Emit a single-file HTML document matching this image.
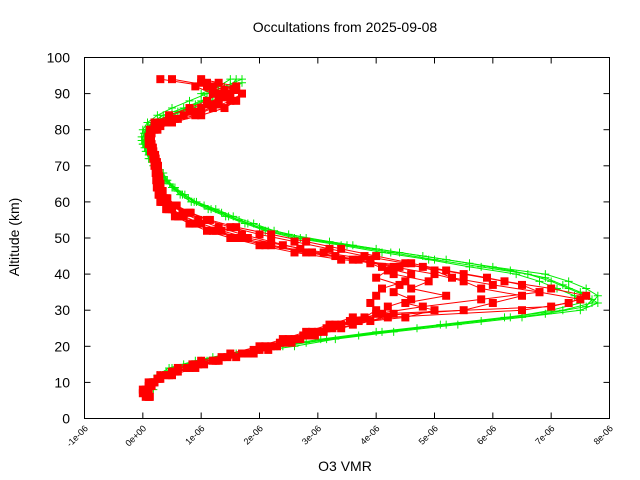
<!DOCTYPE html>
<html><head><meta charset="utf-8"><style>
html,body{margin:0;padding:0;background:#fff;}
svg{display:block;font-family:"Liberation Sans",sans-serif;}
</style></head><body>
<svg id="chart" width="640" height="480" viewBox="0 0 640 480" xmlns="http://www.w3.org/2000/svg">
<rect width="640" height="480" fill="#fff"/>
<text x="345" y="32" font-size="14" text-anchor="middle">Occultations from 2025-09-08</text>
<text transform="translate(19,237) rotate(-90)" font-size="14" text-anchor="middle">Altitude (km)</text>
<text x="345" y="471" font-size="14" text-anchor="middle">O3 VMR</text>
<g id="grid"></g>
<g id="series"></g>
<rect x="84.5" y="57.5" width="525" height="361" fill="none" stroke="#000" stroke-width="1"/>
</svg>
<script>
const xTicks = [-1, 0, 1, 2, 3, 4, 5, 6, 7, 8];
const xTickLabels = ["-1e-06","0e+00","1e-06","2e-06","3e-06","4e-06","5e-06","6e-06","7e-06","8e-06"];
const yTicks = [0,10,20,30,40,50,60,70,80,90,100];
const alts = [6,8,10,12,14,16,18,20,22,24,26,28,30,32,34,36,38,40,42,44,46,48,50,52,54,56,58,60,62,64,66,68,70,72,74,76,78,80,82,84,86,88,90,92,94];
const alts2 = [7,9,11,13,15,17,19,21,23,25,27,29,31,33,35,37,39,41,43,45,47,49,51,53,55,57,59,61,63,65,67,69,71,73,75,77,79,81,83,85,87,89,91,93,95];
const green1 = [null,0.10,0.12,0.25,0.45,0.9,1.5,2.3,3.05,4.0,5.1,6.2,7.2,7.7,7.8,7.6,7.3,6.9,6.0,5.2,4.4,3.6,2.8,2.25,1.9,1.55,1.25,0.92,0.72,0.55,0.42,0.35,0.22,0.15,0.1,0.03,-0.02,0.0,0.08,0.25,0.5,0.8,1.1,1.4,1.7];
const green2 = [null,0.18,0.2,0.35,0.6,1.1,1.7,2.6,3.3,4.3,5.4,6.5,7.5,7.8,7.6,7.3,7.0,6.6,5.8,5.0,4.25,3.5,2.7,2.15,1.8,1.47,1.17,0.88,0.68,0.52,0.4,0.32,0.2,0.12,0.06,0.0,0.02,0.05,0.15,0.35,0.7,1.0,1.3,1.5,1.6];
const green3 = [null,null,0.15,0.3,0.5,1.0,1.6,2.4,3.15,4.1,5.2,6.3,7.0,7.5,7.4,7.1,6.8,6.4,5.6,4.9,4.1,3.4,2.6,2.1,1.75,1.42,1.12,0.83,0.64,0.5,0.38,0.3,0.18,0.1,0.05,0.0,0.05,0.1,0.2,0.5,0.85,1.2,1.0,1.3,1.5];
const green4 = [0.05,0.1,0.2,0.4,0.7,1.2,2.0,2.8,3.7,4.7,5.8,6.9,7.6,7.7,7.5,7.2,6.9,6.3,5.6,4.8,4.0,3.2,2.5,2.0,1.65,1.35,1.05,0.78,0.6,0.46,0.36,0.27,0.16,0.1,0.03,-0.02,0.02,0.1,0.3,0.6,0.9,1.2,1.5,1.7,null];
const red1 = [0.1,0.05,0.15,0.4,0.75,1.2,1.7,2.2,2.6,3.0,3.4,3.8,4.0,3.9,4.0,4.1,4.5,4.6,4.1,3.9,3.1,2.4,1.8,1.35,1.0,0.7,0.5,0.38,0.32,0.3,0.28,0.27,0.26,0.22,0.18,0.15,0.12,0.12,0.2,0.45,0.8,1.1,1.3,1.2,0.5];
const red2 = [0.05,0.0,0.1,0.3,0.6,1.0,1.5,2.0,2.4,2.8,3.2,3.6,5.5,6.0,6.5,5.8,5.5,5.0,4.3,3.6,2.8,2.1,1.6,1.2,0.85,0.6,0.42,0.33,0.28,0.25,0.25,0.24,0.22,0.2,0.15,0.12,0.1,0.15,0.3,0.7,1.0,1.3,1.5,1.1,0.3];
const red3 = [0.1,0.08,0.2,0.5,0.9,1.3,1.9,2.3,2.7,3.1,3.6,4.2,6.5,7.3,7.6,7.0,6.2,5.5,4.8,3.4,2.6,2.0,1.5,1.1,0.8,0.55,0.4,0.3,0.27,0.24,0.23,0.22,0.2,0.18,0.14,0.1,0.1,0.2,0.4,0.9,1.2,1.5,1.7,1.6,1.0];
const red4 = [0.12,0.1,0.18,0.45,0.8,1.25,1.8,2.1,2.5,2.9,3.3,4.5,5.0,4.5,5.2,4.6,4.9,4.3,4.4,3.7,2.9,2.2,1.7,1.25,0.9,0.62,0.45,0.35,0.3,0.28,0.26,0.25,0.23,0.2,0.16,0.13,0.14,0.25,0.5,1.0,1.4,1.6,1.2,0.9,null];
const red5 = [0.0,0.1,0.25,0.55,0.95,1.45,2.0,2.45,2.85,3.25,3.7,4.0,4.8,5.8,6.8,6.0,5.3,5.0,4.5,3.8,3.2,2.6,2.0,1.5,1.1,0.8,0.55,0.4,0.33,0.3,0.28,0.26,0.24,0.2,0.17,0.14,0.15,0.25,0.55,1.0,1.3,1.4,1.6,1.1,null];
const red6 = [0.08,0.15,0.3,0.6,1.05,1.6,2.15,2.55,2.95,3.4,3.9,4.3,4.2,4.6,4.3,4.4,4.0,4.2,3.9,3.3,2.7,2.2,1.7,1.3,0.95,0.68,0.5,0.36,0.3,0.27,0.26,0.25,0.23,0.2,0.16,0.13,0.13,0.3,0.6,0.9,1.1,1.3,1.4,1.0,null];
const red7 = [0.05,0.12,0.28,0.5,0.85,1.35,1.9,2.35,2.75,3.15,3.55,4.1,7.0,7.5,6.8,6.5,5.9,5.2,4.6,4.0,3.4,2.8,2.2,1.6,1.15,0.82,0.58,0.42,0.34,0.3,0.28,0.26,0.24,0.21,0.17,0.14,0.12,0.22,0.45,0.8,1.2,1.45,1.55,1.3,null];

const NS = "http://www.w3.org/2000/svg";
const X0 = 84.5, X1 = 609.5, Y0 = 418.5, Y1 = 57.5;
function xs(v){ return X0 + (v - (-1)) / 9 * (X1 - X0); }
function ys(a){ return Y0 - a / 100 * (Y0 - Y1); }
function mk(tag, attrs, parent){ const e = document.createElementNS(NS, tag); for (const k in attrs) e.setAttribute(k, attrs[k]); parent.appendChild(e); return e; }

const grid = document.getElementById('grid');
yTicks.forEach(t => {
  const y = ys(t);
  const l = mk('line', {x1:X0, x2:X0+6, y1:y, y2:y, stroke:'#000'}, grid);
  
  
  const r = mk('line', {x1:X1-6, x2:X1, y1:y, y2:y, stroke:'#000'}, grid);
  
  
  const tx = mk('text', {x:70, y:y+5, 'font-size':14, 'text-anchor':'end'}, grid);
  tx.textContent = t;
  
  
});
xTicks.forEach((t, i) => {
  const x = xs(t);
  const l = mk('line', {x1:x, x2:x, y1:Y0, y2:Y0-6, stroke:'#000'}, grid);
  
  
  const r = mk('line', {x1:x, x2:x, y1:Y1, y2:Y1+6, stroke:'#000'}, grid);
  
  
  const tx = mk('text', {transform:`translate(${x+4},${429}) rotate(-45)`, 'font-size':9, 'text-anchor':'end'}, grid);
  tx.textContent = xTickLabels[i];
  
  
});

const series = document.getElementById('series');
function drawSeries(vals, altArr, color, kind, name){
  const g = mk('g', {}, series);
  
  
  const pts = [];
  vals.forEach((v, i) => { if (v !== null) pts.push([xs(v), ys(altArr[i])]); });
  const pl = mk('polyline', {points: pts.map(p => p.join(',')).join(' '), fill:'none', stroke:color, 'stroke-width':1}, g);
  
  
  pts.forEach(p => {
    let m;
    if (kind === 'square') {
      m = mk('rect', {x:p[0]-4, y:p[1]-4, width:8, height:8, fill:color}, g);
    } else {
      m = mk('path', {d:`M${p[0]-4},${p[1]}h8M${p[0]},${p[1]-4}v8`, stroke:color, 'stroke-width':1, fill:'none'}, g);
    }
    
    
  });
}
drawSeries(green1, alts, '#00ee00', 'cross', 'green-profile-1');
drawSeries(green2, alts, '#00ee00', 'cross', 'green-profile-2');
drawSeries(green3, alts, '#00ee00', 'cross', 'green-profile-3');
drawSeries(green4, alts2, '#00ee00', 'cross', 'green-profile-4');
drawSeries(red1, alts, '#ff0000', 'square', 'red-profile-1');
drawSeries(red2, alts, '#ff0000', 'square', 'red-profile-2');
drawSeries(red3, alts, '#ff0000', 'square', 'red-profile-3');
drawSeries(red4, alts, '#ff0000', 'square', 'red-profile-4');
drawSeries(red5, alts2, '#ff0000', 'square', 'red-profile-5');
drawSeries(red6, alts2, '#ff0000', 'square', 'red-profile-6');
drawSeries(red7, alts2, '#ff0000', 'square', 'red-profile-7');
</script>
</body></html>
